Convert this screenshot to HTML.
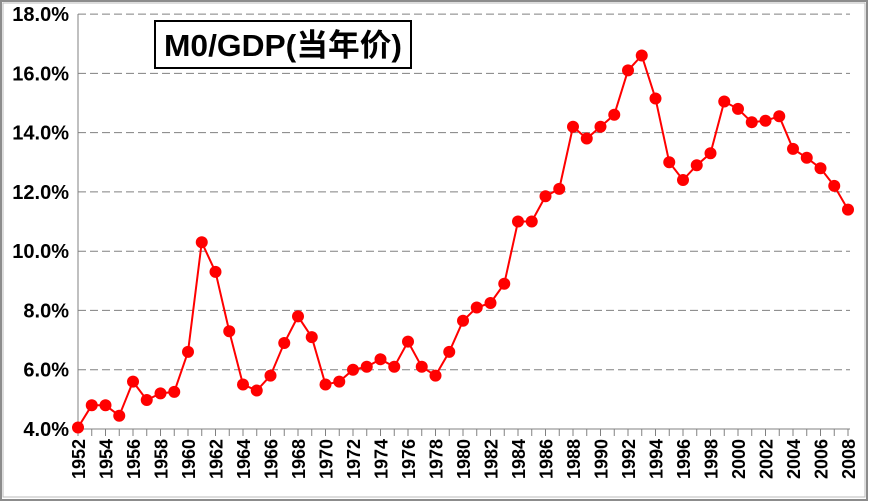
<!DOCTYPE html>
<html><head><meta charset="utf-8"><style>
html,body{margin:0;padding:0;background:#fff;}
svg{display:block;}
</style></head><body>
<svg width="870" height="503" viewBox="0 0 870 503" xmlns="http://www.w3.org/2000/svg">
<rect x="1" y="1" width="866" height="499" fill="#fff" stroke="#8c8c8c" stroke-width="2"/>
<rect x="3" y="3" width="862" height="494" fill="none" stroke="#bbb" stroke-width="1"/>
<g stroke="#808080" stroke-width="1" stroke-dasharray="8,4">
<line x1="78" y1="369.7" x2="850" y2="369.7"/>
<line x1="78" y1="310.4" x2="850" y2="310.4"/>
<line x1="78" y1="251.2" x2="850" y2="251.2"/>
<line x1="78" y1="191.9" x2="850" y2="191.9"/>
<line x1="78" y1="132.6" x2="850" y2="132.6"/>
<line x1="78" y1="73.4" x2="850" y2="73.4"/>
<line x1="78" y1="14.1" x2="850" y2="14.1"/>
</g>
<line x1="78" y1="14" x2="78" y2="429" stroke="#808080"/>
<line x1="78" y1="429" x2="850" y2="429" stroke="#808080"/>
<g stroke="#808080">
<line x1="78" y1="429" x2="78" y2="436"/><line x1="91.75" y1="429" x2="91.75" y2="436"/><line x1="105.5" y1="429" x2="105.5" y2="436"/><line x1="119.25" y1="429" x2="119.25" y2="436"/><line x1="133" y1="429" x2="133" y2="436"/><line x1="146.75" y1="429" x2="146.75" y2="436"/><line x1="160.5" y1="429" x2="160.5" y2="436"/><line x1="174.25" y1="429" x2="174.25" y2="436"/><line x1="188" y1="429" x2="188" y2="436"/><line x1="201.75" y1="429" x2="201.75" y2="436"/><line x1="215.5" y1="429" x2="215.5" y2="436"/><line x1="229.25" y1="429" x2="229.25" y2="436"/><line x1="243" y1="429" x2="243" y2="436"/><line x1="256.75" y1="429" x2="256.75" y2="436"/><line x1="270.5" y1="429" x2="270.5" y2="436"/><line x1="284.25" y1="429" x2="284.25" y2="436"/><line x1="298" y1="429" x2="298" y2="436"/><line x1="311.75" y1="429" x2="311.75" y2="436"/><line x1="325.5" y1="429" x2="325.5" y2="436"/><line x1="339.25" y1="429" x2="339.25" y2="436"/><line x1="353" y1="429" x2="353" y2="436"/><line x1="366.75" y1="429" x2="366.75" y2="436"/><line x1="380.5" y1="429" x2="380.5" y2="436"/><line x1="394.25" y1="429" x2="394.25" y2="436"/><line x1="408" y1="429" x2="408" y2="436"/><line x1="421.75" y1="429" x2="421.75" y2="436"/><line x1="435.5" y1="429" x2="435.5" y2="436"/><line x1="449.25" y1="429" x2="449.25" y2="436"/><line x1="463" y1="429" x2="463" y2="436"/><line x1="476.75" y1="429" x2="476.75" y2="436"/><line x1="490.5" y1="429" x2="490.5" y2="436"/><line x1="504.25" y1="429" x2="504.25" y2="436"/><line x1="518" y1="429" x2="518" y2="436"/><line x1="531.75" y1="429" x2="531.75" y2="436"/><line x1="545.5" y1="429" x2="545.5" y2="436"/><line x1="559.25" y1="429" x2="559.25" y2="436"/><line x1="573" y1="429" x2="573" y2="436"/><line x1="586.75" y1="429" x2="586.75" y2="436"/><line x1="600.5" y1="429" x2="600.5" y2="436"/><line x1="614.25" y1="429" x2="614.25" y2="436"/><line x1="628" y1="429" x2="628" y2="436"/><line x1="641.75" y1="429" x2="641.75" y2="436"/><line x1="655.5" y1="429" x2="655.5" y2="436"/><line x1="669.25" y1="429" x2="669.25" y2="436"/><line x1="683" y1="429" x2="683" y2="436"/><line x1="696.75" y1="429" x2="696.75" y2="436"/><line x1="710.5" y1="429" x2="710.5" y2="436"/><line x1="724.25" y1="429" x2="724.25" y2="436"/><line x1="738" y1="429" x2="738" y2="436"/><line x1="751.75" y1="429" x2="751.75" y2="436"/><line x1="765.5" y1="429" x2="765.5" y2="436"/><line x1="779.25" y1="429" x2="779.25" y2="436"/><line x1="793" y1="429" x2="793" y2="436"/><line x1="806.75" y1="429" x2="806.75" y2="436"/><line x1="820.5" y1="429" x2="820.5" y2="436"/><line x1="834.25" y1="429" x2="834.25" y2="436"/><line x1="848" y1="429" x2="848" y2="436"/>
</g>
<g font-family="Liberation Sans, sans-serif" font-weight="bold" font-size="20" fill="#000" text-anchor="end">
<text x="69" y="436">4.0%</text>
<text x="69" y="376.7">6.0%</text>
<text x="69" y="317.4">8.0%</text>
<text x="69" y="258.2">10.0%</text>
<text x="69" y="198.9">12.0%</text>
<text x="69" y="139.6">14.0%</text>
<text x="69" y="80.4">16.0%</text>
<text x="69" y="21.1">18.0%</text>
</g>
<g font-family="Liberation Sans, sans-serif" font-weight="bold" font-size="18" fill="#000" text-anchor="end">
<text transform="translate(85,439) rotate(-90)">1952</text>
<text transform="translate(112.5,439) rotate(-90)">1954</text>
<text transform="translate(140,439) rotate(-90)">1956</text>
<text transform="translate(167.5,439) rotate(-90)">1958</text>
<text transform="translate(195,439) rotate(-90)">1960</text>
<text transform="translate(222.5,439) rotate(-90)">1962</text>
<text transform="translate(250,439) rotate(-90)">1964</text>
<text transform="translate(277.5,439) rotate(-90)">1966</text>
<text transform="translate(305,439) rotate(-90)">1968</text>
<text transform="translate(332.5,439) rotate(-90)">1970</text>
<text transform="translate(360,439) rotate(-90)">1972</text>
<text transform="translate(387.5,439) rotate(-90)">1974</text>
<text transform="translate(415,439) rotate(-90)">1976</text>
<text transform="translate(442.5,439) rotate(-90)">1978</text>
<text transform="translate(470,439) rotate(-90)">1980</text>
<text transform="translate(497.5,439) rotate(-90)">1982</text>
<text transform="translate(525,439) rotate(-90)">1984</text>
<text transform="translate(552.5,439) rotate(-90)">1986</text>
<text transform="translate(580,439) rotate(-90)">1988</text>
<text transform="translate(607.5,439) rotate(-90)">1990</text>
<text transform="translate(635,439) rotate(-90)">1992</text>
<text transform="translate(662.5,439) rotate(-90)">1994</text>
<text transform="translate(690,439) rotate(-90)">1996</text>
<text transform="translate(717.5,439) rotate(-90)">1998</text>
<text transform="translate(745,439) rotate(-90)">2000</text>
<text transform="translate(772.5,439) rotate(-90)">2002</text>
<text transform="translate(800,439) rotate(-90)">2004</text>
<text transform="translate(827.5,439) rotate(-90)">2006</text>
<text transform="translate(855,439) rotate(-90)">2008</text>
</g>
<polyline fill="none" stroke="#ff0000" stroke-width="2" points="78,427.5 91.75,405.3 105.5,405.3 119.25,415.7 133,381.6 146.75,400 160.5,393.4 174.25,391.9 188,351.9 201.75,242.3 215.5,271.9 229.25,331.2 243,384.5 256.75,390.5 270.5,375.6 284.25,343 298,316.4 311.75,337.1 325.5,384.5 339.25,381.6 353,369.7 366.75,366.8 380.5,359.3 394.25,366.8 408,341.6 421.75,366.8 435.5,375.6 449.25,351.9 463,320.8 476.75,307.5 490.5,303 504.25,283.8 518,221.5 531.75,221.5 545.5,196.3 559.25,188.9 573,126.7 586.75,138.5 600.5,126.7 614.25,114.8 628,70.4 641.75,55.5 655.5,98.5 669.25,162.2 683,180 696.75,165.2 710.5,153.3 724.25,101.5 738,108.9 751.75,122.2 765.5,120.7 779.25,116.3 793,148.9 806.75,157.8 820.5,168.2 834.25,185.9 848,209.6"/>
<g fill="#ff0000">
<circle cx="78" cy="427.5" r="6"/><circle cx="91.75" cy="405.3" r="6"/><circle cx="105.5" cy="405.3" r="6"/><circle cx="119.25" cy="415.7" r="6"/><circle cx="133" cy="381.6" r="6"/><circle cx="146.75" cy="400" r="6"/><circle cx="160.5" cy="393.4" r="6"/><circle cx="174.25" cy="391.9" r="6"/><circle cx="188" cy="351.9" r="6"/><circle cx="201.75" cy="242.3" r="6"/><circle cx="215.5" cy="271.9" r="6"/><circle cx="229.25" cy="331.2" r="6"/><circle cx="243" cy="384.5" r="6"/><circle cx="256.75" cy="390.5" r="6"/><circle cx="270.5" cy="375.6" r="6"/><circle cx="284.25" cy="343" r="6"/><circle cx="298" cy="316.4" r="6"/><circle cx="311.75" cy="337.1" r="6"/><circle cx="325.5" cy="384.5" r="6"/><circle cx="339.25" cy="381.6" r="6"/><circle cx="353" cy="369.7" r="6"/><circle cx="366.75" cy="366.8" r="6"/><circle cx="380.5" cy="359.3" r="6"/><circle cx="394.25" cy="366.8" r="6"/><circle cx="408" cy="341.6" r="6"/><circle cx="421.75" cy="366.8" r="6"/><circle cx="435.5" cy="375.6" r="6"/><circle cx="449.25" cy="351.9" r="6"/><circle cx="463" cy="320.8" r="6"/><circle cx="476.75" cy="307.5" r="6"/><circle cx="490.5" cy="303" r="6"/><circle cx="504.25" cy="283.8" r="6"/><circle cx="518" cy="221.5" r="6"/><circle cx="531.75" cy="221.5" r="6"/><circle cx="545.5" cy="196.3" r="6"/><circle cx="559.25" cy="188.9" r="6"/><circle cx="573" cy="126.7" r="6"/><circle cx="586.75" cy="138.5" r="6"/><circle cx="600.5" cy="126.7" r="6"/><circle cx="614.25" cy="114.8" r="6"/><circle cx="628" cy="70.4" r="6"/><circle cx="641.75" cy="55.5" r="6"/><circle cx="655.5" cy="98.5" r="6"/><circle cx="669.25" cy="162.2" r="6"/><circle cx="683" cy="180" r="6"/><circle cx="696.75" cy="165.2" r="6"/><circle cx="710.5" cy="153.3" r="6"/><circle cx="724.25" cy="101.5" r="6"/><circle cx="738" cy="108.9" r="6"/><circle cx="751.75" cy="122.2" r="6"/><circle cx="765.5" cy="120.7" r="6"/><circle cx="779.25" cy="116.3" r="6"/><circle cx="793" cy="148.9" r="6"/><circle cx="806.75" cy="157.8" r="6"/><circle cx="820.5" cy="168.2" r="6"/><circle cx="834.25" cy="185.9" r="6"/><circle cx="848" cy="209.6" r="6"/>
</g>
<rect x="155" y="21" width="256" height="47" fill="#fff" stroke="#000" stroke-width="2"/>
<text x="283" y="56" text-anchor="middle" font-family="Liberation Sans, Noto Sans CJK SC, sans-serif" font-weight="bold" font-size="31" textLength="238" lengthAdjust="spacingAndGlyphs" fill="#000">M0/GDP(当年价)</text>
</svg>
</body></html>
